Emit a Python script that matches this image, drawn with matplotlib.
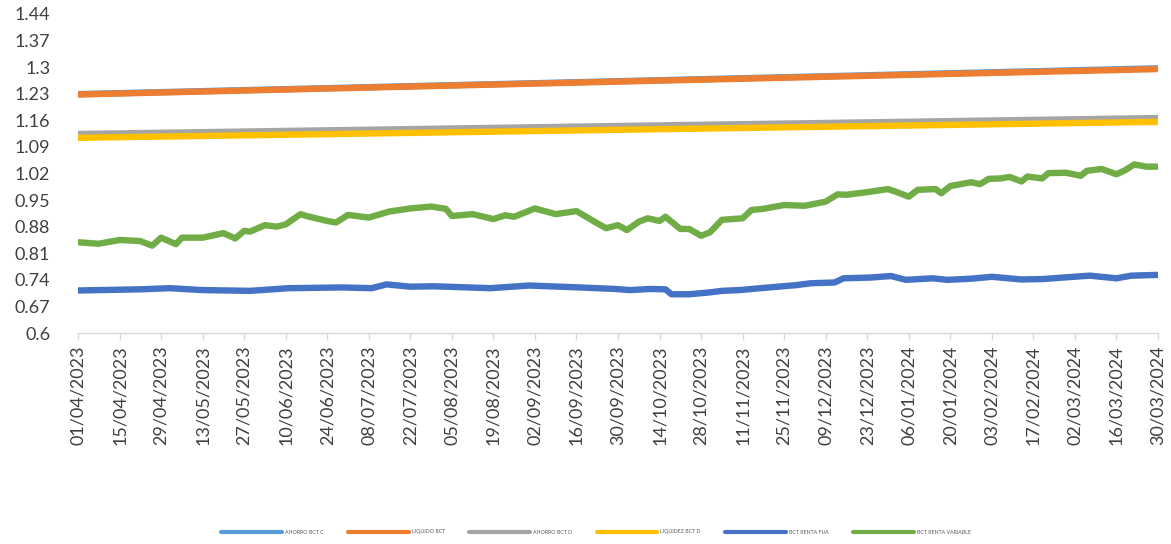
import numpy as np
import pandas as pd
import matplotlib
matplotlib.use("Agg")
import matplotlib.pyplot as plt
import matplotlib.dates as mdates

plt.rcParams['font.family'] = ['Lato', 'DejaVu Sans']

start = pd.Timestamp("2023-04-01")

# straight series: values read at start, middle and end of the period
flat_days = [0, 182, 364]
ahorro_c = [1.229, 1.263, 1.297]
liquido = [1.228, 1.262, 1.295]
ahorro_d = [1.124, 1.145, 1.166]
liquidez_d = [1.114, 1.135, 1.156]

# BCT renta fija (days since 01/04/2023, value)
fija_days = [0, 21, 31, 42, 58, 71, 89, 99, 104, 112, 120, 139, 152, 169, 181,
             186, 193, 198, 200, 206, 213, 217, 223, 230, 242, 247, 255, 258,
             267, 274, 279, 288, 293, 301, 308, 318, 325, 332, 341, 350, 355, 364]
fija = [0.712, 0.715, 0.718, 0.713, 0.711, 0.718, 0.720, 0.718, 0.728, 0.722,
        0.723, 0.718, 0.725, 0.720, 0.716, 0.713, 0.716, 0.715, 0.702, 0.702,
        0.707, 0.711, 0.713, 0.718, 0.726, 0.731, 0.733, 0.744, 0.746, 0.750,
        0.740, 0.744, 0.740, 0.743, 0.748, 0.741, 0.742, 0.746, 0.751, 0.744,
        0.751, 0.753]

# BCT renta variable
var_days = [0, 7, 14, 21, 25, 28, 33, 35, 42, 49, 53, 56, 58, 63, 67, 70, 75,
            77, 84, 87, 91, 98, 105, 112, 119, 124, 126, 133, 140, 144, 147,
            154, 161, 168, 175, 178, 182, 185, 189, 192, 196, 198, 203, 206,
            210, 213, 217, 224, 227, 231, 238, 245, 252, 256, 259, 266, 273,
            276, 280, 283, 289, 291, 294, 301, 304, 307, 311, 314, 318, 320,
            325, 327, 333, 338, 340, 345, 350, 353, 356, 360, 364]
variable = [0.839, 0.835, 0.845, 0.842, 0.830, 0.851, 0.834, 0.851, 0.851,
            0.863, 0.849, 0.869, 0.867, 0.884, 0.880, 0.886, 0.913, 0.908,
            0.895, 0.891, 0.911, 0.904, 0.920, 0.928, 0.933, 0.927, 0.908,
            0.913, 0.900, 0.910, 0.906, 0.928, 0.913, 0.921, 0.889, 0.876,
            0.884, 0.871, 0.893, 0.902, 0.895, 0.906, 0.874, 0.874, 0.856,
            0.865, 0.898, 0.902, 0.924, 0.927, 0.937, 0.935, 0.946, 0.965,
            0.964, 0.971, 0.979, 0.971, 0.959, 0.977, 0.979, 0.968, 0.987,
            0.997, 0.992, 1.006, 1.007, 1.011, 0.999, 1.012, 1.007, 1.021,
            1.022, 1.014, 1.027, 1.032, 1.018, 1.029, 1.044, 1.038, 1.038]

yticks = [0.6, 0.67, 0.74, 0.81, 0.88, 0.95, 1.02, 1.09, 1.16, 1.23, 1.3, 1.37, 1.44]


def to_dates(days):
    return start + pd.to_timedelta(days, unit="D")


series = [
    ("AHORRO BCT C", flat_days, ahorro_c, "#5B9BD5"),
    ("LIQUIDO BCT", flat_days, liquido, "#ED7D31"),
    ("AHORRO BCT D", flat_days, ahorro_d, "#A5A5A5"),
    ("LIQUIDEZ BCT D", flat_days, liquidez_d, "#FFC000"),
    ("BCT RENTA FIJA", fija_days, fija, "#4472C4"),
    ("BCT RENTA VARIABLE", var_days, variable, "#70AD47"),
]

fig = plt.figure(figsize=(11.71, 5.44), dpi=100)
ax = fig.add_axes([78 / 1171, 1 - 333 / 544, (1158 - 78) / 1171, (333 - 14) / 544])

for name, d, v, c in series:
    ax.plot(to_dates(d), v, color=c, lw=4.6, label=name, solid_capstyle="round",
            solid_joinstyle="round")

ax.set_ylim(0.6, 1.44)
ax.set_yticks(yticks)
ax.set_yticklabels([f"{t:g}" for t in yticks])
ax.set_xlim(to_dates([0])[0], to_dates([364])[0])
xt = pd.date_range("2023-04-01", "2024-03-30", freq="14D")
ax.set_xticks(xt)
ax.set_xticklabels([d.strftime("%d/%m/%Y") for d in xt], rotation=90)

for s in ["top", "right", "left"]:
    ax.spines[s].set_visible(False)
ax.spines["bottom"].set_color("#D9D9D9")
ax.spines["bottom"].set_linewidth(1.0)
ax.tick_params(axis="y", length=0, pad=20, labelsize=13, labelcolor="#404040")
ax.tick_params(axis="x", length=5, color="#D9D9D9", width=1.0, pad=4,
               labelsize=13, labelcolor="#404040")

fig.legend(loc="center", bbox_to_anchor=(596 / 1171, 1 - 532 / 544), ncol=6,
           frameon=False, fontsize=3.8, handlelength=11.5, handletextpad=0.6,
           columnspacing=4.6, labelcolor="#595959")
for line in fig.legends[0].get_lines():
    line.set_linewidth(3)

fig.savefig("out.png", dpi=100)
